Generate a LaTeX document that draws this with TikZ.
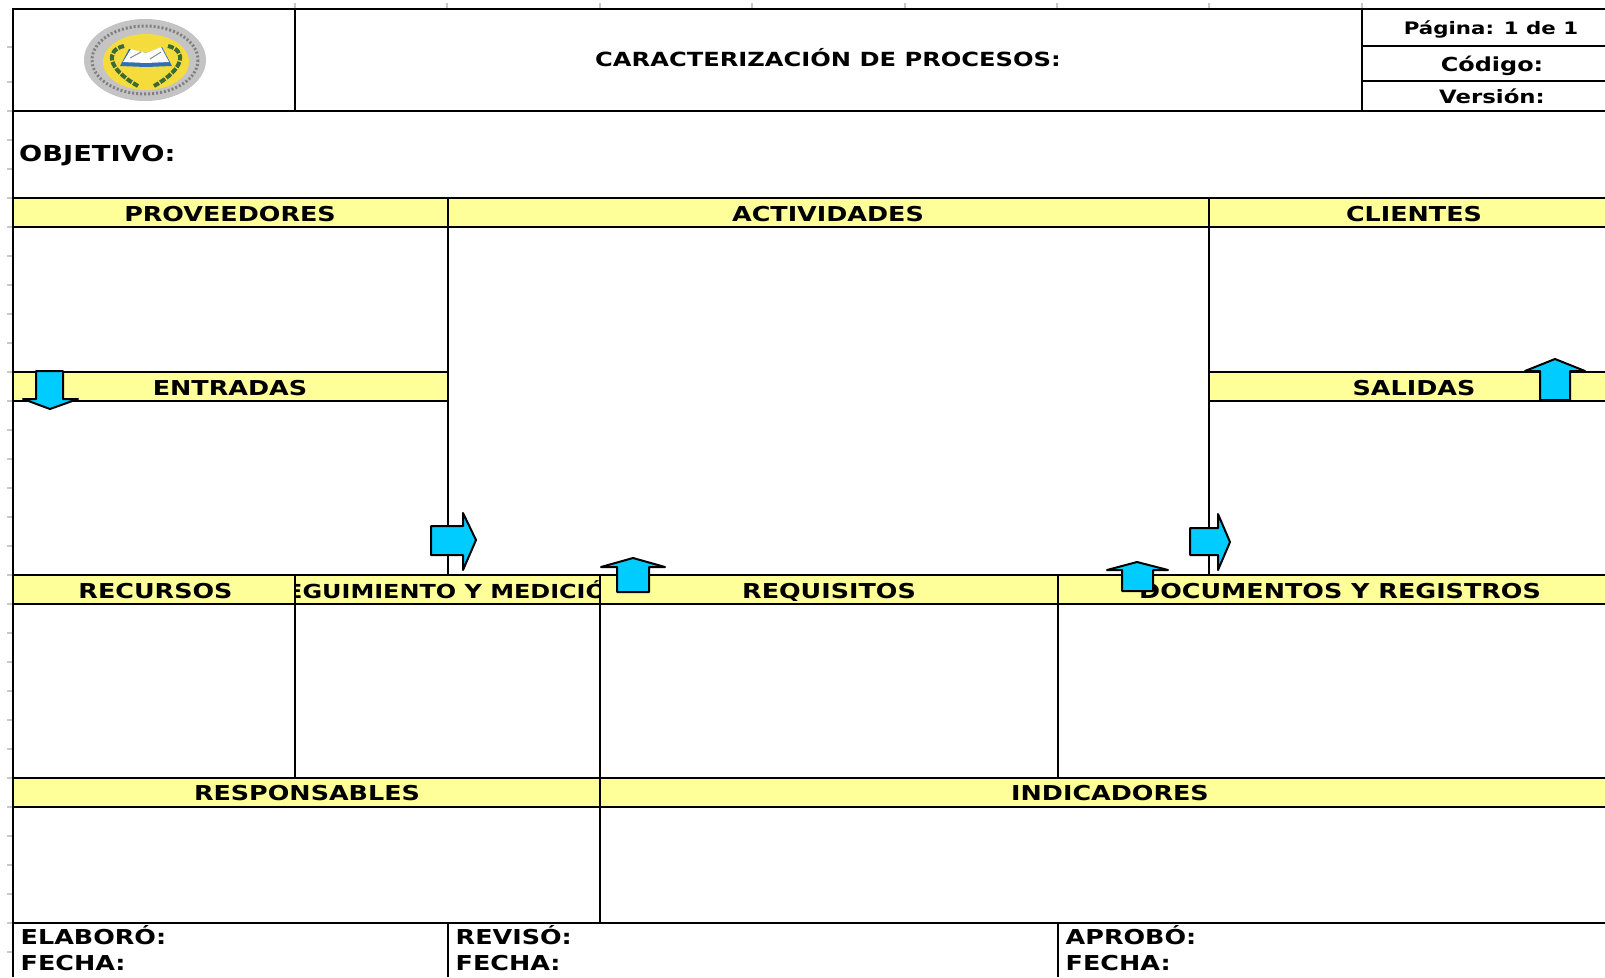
\documentclass[tikz,border=0pt]{standalone}
\usepackage{fontspec}
\setmainfont[FakeStretch=1.24]{DejaVu Sans}
\definecolor{bandyellow}{HTML}{FFFF99}
\definecolor{arrowblue}{HTML}{00CCFF}
\definecolor{tickgray}{HTML}{C8C8C8}
\definecolor{sealgold}{HTML}{F5DC3C}
\definecolor{sealgray}{HTML}{C4C4C4}
\definecolor{sealgreen}{HTML}{3A6B35}
\definecolor{sealblue}{HTML}{2F6FB5}
\tikzset{
  band/.style={fill=bandyellow},
  rule/.style={line width=2pt,black},
  tick/.style={line width=1.5pt,tickgray},
  lbl/.style={font=\fontsize{20.5}{24}\selectfont\bfseries,inner sep=0pt,text height=15pt,text depth=0pt},
  foot/.style={lbl,anchor=west},
  hoja/.style={sealgreen,line width=4pt,dash pattern=on 6pt off 1.5pt},
  flecha/.style={fill=arrowblue,draw=black,line width=2pt,line join=round}
}
\begin{document}
\begin{tikzpicture}[x=1pt,y=-1pt]
      \useasboundingbox (0,0) rectangle (1605,977);
      % bands
      \fill[band] (13,198) rectangle (1605,227);
      \fill[band] (13,372) rectangle (447.5,401);
      \fill[band] (1209,372) rectangle (1605,401);
      \fill[band] (13,575) rectangle (1605,604);
      \fill[band] (13,778) rectangle (1605,807);
      % sheet ticks
      \draw[tick]
        (295,3) -- (295,8) (447,3) -- (447,8) (600,3) -- (600,8) (752,3) -- (752,8)
        (905,3) -- (905,8) (1057,3) -- (1057,8) (1209,3) -- (1209,8) (1362,3) -- (1362,8)
        (7,47) -- (13,47) (7,82) -- (13,82) (7,111) -- (13,111) (7,140) -- (13,140)
        (7,169) -- (13,169) (7,198) -- (13,198) (7,227) -- (13,227) (7,256) -- (13,256)
        (7,285) -- (13,285) (7,314) -- (13,314) (7,343) -- (13,343) (7,372) -- (13,372)
        (7,401) -- (13,401) (7,430) -- (13,430) (7,459) -- (13,459) (7,488) -- (13,488)
        (7,517) -- (13,517) (7,546) -- (13,546) (7,575) -- (13,575) (7,604) -- (13,604)
        (7,633) -- (13,633) (7,662) -- (13,662) (7,691) -- (13,691) (7,720) -- (13,720)
        (7,749) -- (13,749) (7,778) -- (13,778) (7,807) -- (13,807) (7,836) -- (13,836)
        (7,865) -- (13,865) (7,894) -- (13,894) (7,923) -- (13,923) (7,952) -- (13,952);
      \begin{scope}[rule]
        \draw (13,8.5) -- (1605,8.5);
        \draw (1362,46) -- (1605,46);
        \draw (1362,81) -- (1605,81);
        \draw (13,111) -- (1605,111);
        \draw (13,198) -- (1605,198);
        \draw (13,227) -- (1605,227);
        \draw (13,372) -- (447.5,372);
        \draw (13,401) -- (447.5,401);
        \draw (1209,372) -- (1605,372);
        \draw (1209,401) -- (1605,401);
        \draw (13,575) -- (1605,575);
        \draw (13,604) -- (1605,604);
        \draw (13,778) -- (1605,778);
        \draw (13,807) -- (1605,807);
        \draw (13,923) -- (1605,923);
        \draw (13,8) -- (13,977);
        \draw (295,8) -- (295,111);
        \draw (1362,8) -- (1362,111);
        \draw (447.5,198) -- (447.5,575);
        \draw (1209,198) -- (1209,575);
        \draw (295,575) -- (295,778);
        \draw (600,575) -- (600,923);
        \draw (1057.5,575) -- (1057.5,778);
        \draw (447.5,923) -- (447.5,977);
        \draw (1057.5,923) -- (1057.5,977);
      \end{scope}
      % seal
      \fill[sealgray] (145,60) ellipse (61 and 41);
      \draw[black!50,line width=3pt,dash pattern=on 2pt off 2pt] (145,60) ellipse (53 and 34);
      \fill[sealgold] (146,62) ellipse (43 and 28);
      \draw[hoja] (124,46) .. controls (106,50) and (106,68) .. (138,86);
      \draw[hoja] (168,46) .. controls (186,50) and (186,68) .. (154,86);
      \fill[sealblue] (120,66) -- (129,49) -- (146,53) -- (162,47) -- (172,66) -- (146,67) -- cycle;
      \fill[white] (123,62) -- (131,49) -- (146,53) -- (161,47) -- (169,62) -- (146,63) -- cycle;
      \draw[black!45,line width=1pt] (130,58) -- (141,52) (150,59) -- (161,52);
      % texts
      \draw
        (828,59) node[lbl,font=\fontsize{19.5}{24}\selectfont\bfseries] (titulo){CARACTERIZACIÓN DE PROCESOS:}
        (1491,26.5) node[lbl,font=\fontsize{17.2}{24}\selectfont\bfseries] (pagina){Página: 1 de 1}
        (1492,64) node[lbl,font=\fontsize{19.3}{24}\selectfont\bfseries] (codigo){Código:}
        (1492,96) node[lbl,font=\fontsize{18.4}{24}\selectfont\bfseries] (version){Versión:}
        (19,154) node[lbl,anchor=west,font=\fontsize{22}{28}\selectfont\bfseries] (objetivo){OBJETIVO:}
        (230,214) node[lbl] (proveedores){PROVEEDORES}
        (828,214) node[lbl] (actividades){ACTIVIDADES}
        (1414,214) node[lbl] (clientes){CLIENTES}
        (230,387.5) node[lbl] (entradas){ENTRADAS}
        (1414,387.5) node[lbl] (salidas){SALIDAS}
        (155.5,590.5) node[lbl] (recursos){RECURSOS}
        (829,590.5) node[lbl] (requisitos){REQUISITOS}
        (1340,590.5) node[lbl] (documentos){DOCUMENTOS Y REGISTROS}
        (307,793) node[lbl] (responsables){RESPONSABLES}
        (1110,793) node[lbl] (indicadores){INDICADORES}
        (20.5,936.5) node[foot] (elaboro){ELABORÓ:}
        (20.5,963) node[foot] (fechaa){FECHA:}
        (455.5,936.5) node[foot] (reviso){REVISÓ:}
        (455.5,963) node[foot] (fechab){FECHA:}
        (1065.5,936.5) node[foot] (aprobo){APROBÓ:}
        (1065.5,963) node[foot] (fechac){FECHA:};
      \begin{scope}
        \clip (296,576) rectangle (599,603);
        \draw (447.5,590.5) node[lbl,font=\fontsize{19.3}{24}\selectfont\bfseries] (seguimiento){SEGUIMIENTO Y MEDICIÓN};
      \end{scope}
      % arrows
      \draw[flecha] (36,371) -- (63,371) -- (63,399) -- (78,399) -- (50,409) -- (23,399) -- (36,399) -- cycle;
      \draw[flecha] (1540,400) -- (1570,400) -- (1570,371) -- (1585,371) -- (1555,359) -- (1525,371) -- (1540,371) -- cycle;
      \draw[flecha] (431,526) -- (463,526) -- (463,513) -- (476,540) -- (463,570) -- (463,555) -- (431,555) -- cycle;
      \draw[flecha] (1190,528) -- (1218,528) -- (1218,514) -- (1230,542) -- (1218,570) -- (1218,555) -- (1190,555) -- cycle;
      \draw[flecha] (617,592) -- (649,592) -- (649,567) -- (665,567) -- (633,558) -- (601,567) -- (617,567) -- cycle;
      \draw[flecha] (1122,591) -- (1153,591) -- (1153,570) -- (1168,570) -- (1137,562) -- (1107,570) -- (1122,570) -- cycle;
\end{tikzpicture}
\end{document}
